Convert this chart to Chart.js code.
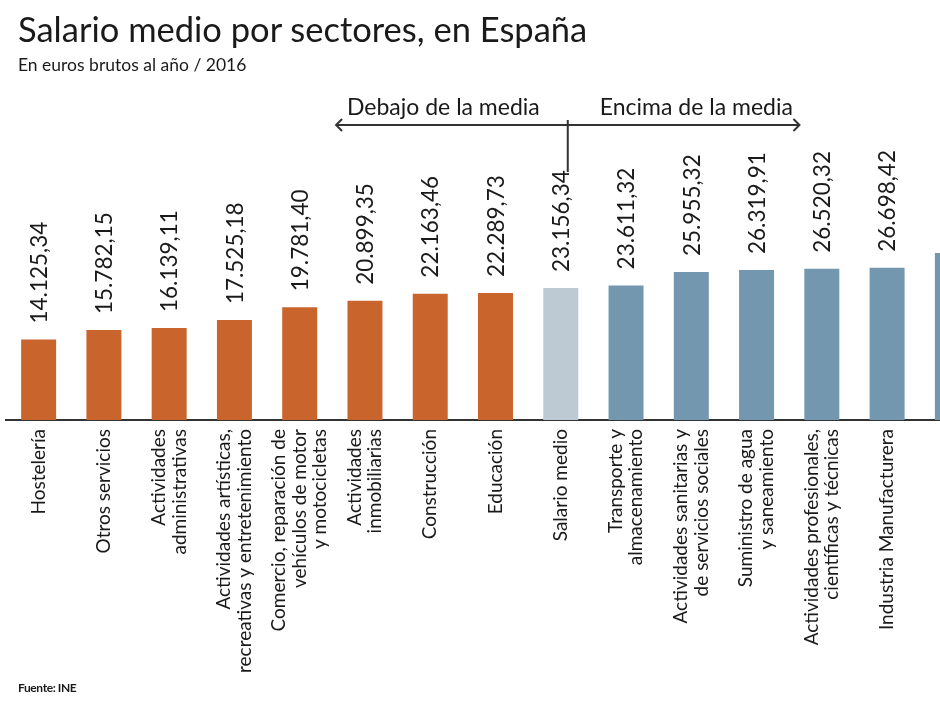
<!DOCTYPE html>
<html lang="es">
<head>
<meta charset="utf-8">
<title>Salario medio por sectores, en España</title>
<script src="https://cdn.jsdelivr.net/npm/chart.js@4.4.1/dist/chart.umd.min.js"></script>
<style>
    html, body { margin: 0; padding: 0; background: #fff; overflow: hidden; }
    body { width: 940px; height: 705px; position: relative; font-family: Lato, "Open Sans", sans-serif; color: #1a1a1a; }
    #wrap { position: absolute; left: 0; top: 0; width: 1000px; height: 705px; }
    .title { position: absolute; left: 18px; top: 10px; font-size: 34.5px; line-height: 38px; white-space: nowrap; }
    .subtitle { position: absolute; left: 18px; top: 55px; font-size: 17.5px; line-height: 20px; white-space: nowrap; }
    .source { position: absolute; left: 18px; top: 680px; font-size: 12px; font-weight: bold; letter-spacing: -0.4px; }
</style>
</head>
<body>
<div id="wrap"><canvas id="chart" width="1000" height="705"></canvas></div>
<div class="title">Salario medio por sectores, en España</div>
<div class="subtitle">En euros brutos al año / 2016</div>
<div class="source">Fuente: INE</div>

<script>
// Sectores (el último aparece cortado en el borde derecho)
const sectors = [
    ['Hostelería'],
    ['Otros servicios'],
    ['Actividades', 'administrativas'],
    ['Actividades artísticas,', 'recreativas y entretenimiento'],
    ['Comercio, reparación de', 'vehículos de motor', 'y motocicletas'],
    ['Actividades', 'inmobiliarias'],
    ['Construcción'],
    ['Educación'],
    ['Salario medio'],
    ['Transporte y', 'almacenamiento'],
    ['Actividades sanitarias y', 'de servicios sociales'],
    ['Suministro de agua', 'y saneamiento'],
    ['Actividades profesionales,', 'científicas y técnicas'],
    ['Industria Manufacturera'],
    ['']
];

const salaries = [14125.34, 15782.15, 16139.11, 17525.18, 19781.40, 20899.35, 22163.46,
    22289.73, 23156.34, 23611.32, 25955.32, 26319.91, 26520.32, 26698.42, 29300];

const meanIndex = 8;
const yTicks = [0, 40000];

const colorBelow = '#C9652C';
const colorMean = '#BDCAD3';
const colorAbove = '#7297AE';

function formatEs(v) {
    const parts = v.toFixed(2).split('.');
    const intPart = parts[0].replace(/\B(?=(\d{3})+(?!\d))/g, '.');
    return intPart + ',' + parts[1];
}

const barColors = salaries.map((v, i) => {
    if (i === meanIndex) return colorMean;
    return v < salaries[meanIndex] ? colorBelow : colorAbove;
});

// Centrar las etiquetas de varias líneas sobre su barra
const centerTickLines = {
    id: 'centerTickLines',
    beforeDraw(chart) {
        const items = chart.scales.x.getLabelItems();
        if (items._centered) return;
        items.forEach(item => {
            const n = Array.isArray(item.label) ? item.label.length : 1;
            item.options.translation[0] -= (n - 1) * item.font.lineHeight / 2;
        });
        items._centered = true;
    }
};

// Etiquetas de valor giradas sobre cada barra
const valueLabels = {
    id: 'valueLabels',
    afterDatasetsDraw(chart) {
        const ctx = chart.ctx;
        const meta = chart.getDatasetMeta(0);
        ctx.save();
        ctx.font = '22.5px Lato';
        ctx.fillStyle = '#1a1a1a';
        ctx.textAlign = 'left';
        ctx.textBaseline = 'middle';
        meta.data.forEach((bar, i) => {
            if (!sectors[i][0]) return;
            ctx.save();
            ctx.translate(bar.x, bar.y - 16);
            ctx.rotate(-Math.PI / 2);
            ctx.fillText(formatEs(salaries[i]), 0, 1);
            ctx.restore();
        });
        ctx.restore();
    }
};

// Flecha "Debajo / Encima de la media"
const meanArrow = {
    id: 'meanArrow',
    afterDraw(chart) {
        const ctx = chart.ctx;
        const x = chart.scales.x;
        const step = x.getPixelForValue(1) - x.getPixelForValue(0);
        const cx = x.getPixelForValue(meanIndex) + 7;
        const left = cx - 3.55 * step;
        const right = cx + 3.55 * step;
        const y = 125;
        ctx.save();
        ctx.strokeStyle = '#333';
        ctx.lineWidth = 2;
        ctx.beginPath();
        ctx.moveTo(left, y);
        ctx.lineTo(right, y);
        ctx.moveTo(left + 6, y - 6);
        ctx.lineTo(left, y);
        ctx.lineTo(left + 6, y + 6);
        ctx.moveTo(right - 6, y - 6);
        ctx.lineTo(right, y);
        ctx.lineTo(right - 6, y + 6);
        ctx.moveTo(cx, 120);
        ctx.lineTo(cx, 172);
        ctx.stroke();
        ctx.font = '23px Lato';
        ctx.fillStyle = '#1a1a1a';
        ctx.textBaseline = 'alphabetic';
        ctx.textAlign = 'right';
        ctx.fillText('Debajo de la media', cx - 28, 115);
        ctx.textAlign = 'left';
        ctx.fillText('Encima de la media', cx + 32, 115);
        ctx.restore();
    }
};

new Chart(document.getElementById('chart'), {
    type: 'bar',
    data: {
        labels: sectors,
        datasets: [{
            data: salaries,
            backgroundColor: barColors,
            borderWidth: 0,
            barPercentage: 0.536,
            categoryPercentage: 1
        }]
    },
    options: {
        responsive: false,
        animation: false,
        devicePixelRatio: 1,
        layout: { padding: { top: 192, left: 6, right: 15, bottom: 0 } },
        plugins: {
            legend: { display: false },
            tooltip: { enabled: false }
        },
        scales: {
            x: {
                grid: { display: false, drawTicks: false },
                border: { display: true, color: '#333', width: 2 },
                ticks: {
                    autoSkip: false,
                    minRotation: 90,
                    maxRotation: 90,
                    padding: 9,
                    color: '#1a1a1a',
                    font: { family: 'Lato', size: 19, lineHeight: 1.08 }
                },
                afterFit(scale) { scale.height = 285; }
            },
            y: {
                display: false,
                min: yTicks[0],
                max: yTicks[1]
            }
        }
    },
    plugins: [centerTickLines, valueLabels, meanArrow]
});
</script>
</body>
</html>
